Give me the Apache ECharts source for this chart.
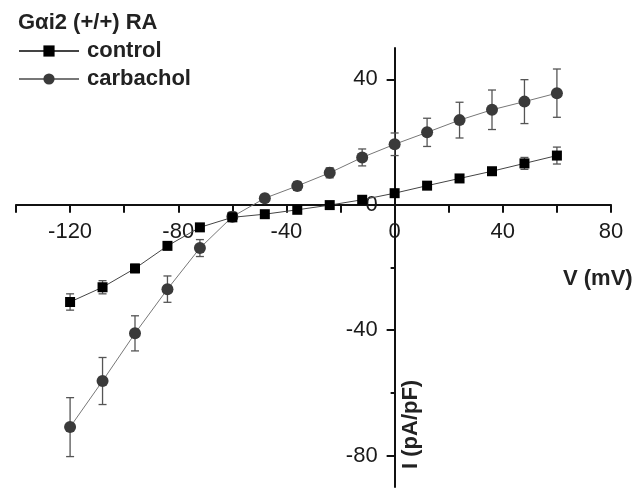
<!DOCTYPE html>
<html>
<head>
    <meta charset="UTF-8">
    <title>I-V curve</title>
    <script src="https://cdn.jsdelivr.net/npm/echarts@6/dist/echarts.min.js"></script>
    <style>
        html, body { margin: 0; padding: 0; background: #fff; }
        #iv { width: 639px; height: 489px; }
    </style>
</head>
<body>
<div id="iv"></div>
<script>
    // membrane potential (mV)
    var volts = [-120, -108, -96, -84, -72, -60, -48, -36, -24, -12, 0, 12, 24, 36, 48, 60];
    // current density (pA/pF), mean and error
    var control = [-31.0, -26.3, -20.3, -13.1, -7.2, -4.0, -3.0, -1.6, -0.1, 1.6, 3.7, 6.1, 8.4, 10.7, 13.2, 15.7];
    var controlErr = [2.6, 2.1, 1.3, 1.0, 0.8, 0.6, 0.5, 0.5, 0.4, 0.5, 0.6, 0.7, 0.8, 1.0, 1.9, 2.7];
    var carbachol = [-70.9, -56.2, -41.0, -26.9, -13.8, -3.8, 2.1, 6.0, 10.2, 15.1, 19.3, 23.1, 27.0, 30.3, 32.9, 35.6];
    var carbacholErr = [9.4, 7.5, 5.6, 4.2, 2.7, 1.5, 1.2, 1.4, 1.6, 2.7, 3.6, 4.5, 5.7, 6.3, 7.0, 7.7];
    var yMajor = [-80, -40, 0, 40];
    var yMinor = [-60, -20, 20];

    var FONT = '"Liberation Sans", Arial, sans-serif';
    var W = 639, H = 489;
    var G = { left: 16, right: 28, top: 48, bottom: 2 };
    var X_MIN = -140, X_MAX = 80, Y_MIN = -90, Y_MAX = 50;

    // axes cross at the origin: shift them from the grid edges to zero
    var xZeroPx = G.left + (W - G.left - G.right) * (0 - X_MIN) / (X_MAX - X_MIN);
    var yZeroPx = G.top + (H - G.top - G.bottom) * (Y_MAX - 0) / (Y_MAX - Y_MIN);
    var yAxisOffset = -(xZeroPx - G.left);
    var xAxisOffset = -((H - G.bottom) - yZeroPx);

    function pairs(ys) {
        return volts.map(function (v, i) { return [v, ys[i]]; });
    }
    function errRows(ys, es) {
        return volts.map(function (v, i) { return [v, ys[i] - es[i], ys[i] + es[i]]; });
    }

    // error bars drawn through the axes' scales
    function errorBar(params, api) {
        var lo = api.coord([api.value(0), api.value(1)]);
        var hi = api.coord([api.value(0), api.value(2)]);
        var w = 4;
        var st = { stroke: '#555', lineWidth: 1.3 };
        return {
            type: 'group',
            children: [
                { type: 'line', shape: { x1: lo[0], y1: lo[1], x2: hi[0], y2: hi[1] }, style: st },
                { type: 'line', shape: { x1: lo[0] - w, y1: lo[1], x2: lo[0] + w, y2: lo[1] }, style: st },
                { type: 'line', shape: { x1: hi[0] - w, y1: hi[1], x2: hi[0] + w, y2: hi[1] }, style: st }
            ]
        };
    }

    var echart = echarts.init(document.getElementById('iv'));
    var option = {
        animation: false,
        textStyle: { fontFamily: FONT },
        title: {
            text: 'G\u03b1i2 (+/+) RA',
            left: 18, top: 12, padding: 0,
            textStyle: { fontFamily: FONT, fontSize: 22, fontWeight: 'bold', color: '#222' }
        },
        legend: {
            orient: 'vertical',
            left: 18, top: 40, padding: 0,
            itemWidth: 60, itemHeight: 14, itemGap: 6,
            textStyle: { fontFamily: FONT, fontSize: 22, fontWeight: 'bold', color: '#222', padding: [0, 0, 0, 3] },
            data: ['control', 'carbachol']
        },
        grid: { left: G.left, right: G.right, top: G.top, bottom: G.bottom, containLabel: false, outerBoundsMode: 'none' },
        xAxis: {
            type: 'value',
            min: X_MIN, max: X_MAX, interval: 20,
            position: 'bottom', offset: xAxisOffset,
            axisLine: { onZero: false, lineStyle: { color: '#111', width: 2 } },
            axisTick: { length: 8, lineStyle: { color: '#111', width: 2 } },
            axisLabel: {
                margin: 16, fontSize: 22, color: '#1a1a1a', fontFamily: FONT,
                formatter: function (v) { return v % 40 === 0 ? String(v) : ''; }
            },
            splitLine: { show: false }
        },
        yAxis: [{
            type: 'value',
            min: Y_MIN, max: Y_MAX,
            position: 'left', offset: yAxisOffset,
            axisLine: { onZero: false, lineStyle: { color: '#111', width: 2 } },
            axisTick: { length: 8, customValues: yMajor, lineStyle: { color: '#111', width: 2 } },
            axisLabel: { margin: 17, fontSize: 22, color: '#1a1a1a', fontFamily: FONT, customValues: yMajor },
            splitLine: { show: false }
        }, {
            type: 'value',
            min: Y_MIN, max: Y_MAX,
            position: 'left', offset: yAxisOffset,
            axisLine: { show: false, onZero: false },
            axisTick: { length: 4, customValues: yMinor, lineStyle: { color: '#111', width: 2 } },
            axisLabel: { show: false },
            splitLine: { show: false }
        }],
        graphic: [{
            type: 'text', left: 563, top: 268,
            style: { text: 'V (mV)', fontFamily: FONT, fontSize: 22, fontWeight: 'bold', fill: '#222' }
        }, {
            type: 'text', x: 400, y: 469, rotation: Math.PI / 2,
            style: { text: 'I (pA/pF)', fontFamily: FONT, fontSize: 22, fontWeight: 'bold', fill: '#222' }
        }],
        series: [{
            type: 'custom', name: 'control-err', z: 1,
            renderItem: errorBar, data: errRows(control, controlErr)
        }, {
            type: 'custom', name: 'carbachol-err', z: 1,
            renderItem: errorBar, data: errRows(carbachol, carbacholErr)
        }, {
            name: 'carbachol', type: 'line', z: 3,
            symbol: 'circle', symbolSize: 12,
            itemStyle: { color: '#3a3a3a' },
            lineStyle: { color: '#777', width: 1 },
            data: pairs(carbachol)
        }, {
            name: 'control', type: 'line', z: 4,
            symbol: 'rect', symbolSize: 10,
            itemStyle: { color: '#000' },
            lineStyle: { color: '#444', width: 1 },
            data: pairs(control)
        }]
    };
    echart.setOption(option);
</script>
</body>
</html>
